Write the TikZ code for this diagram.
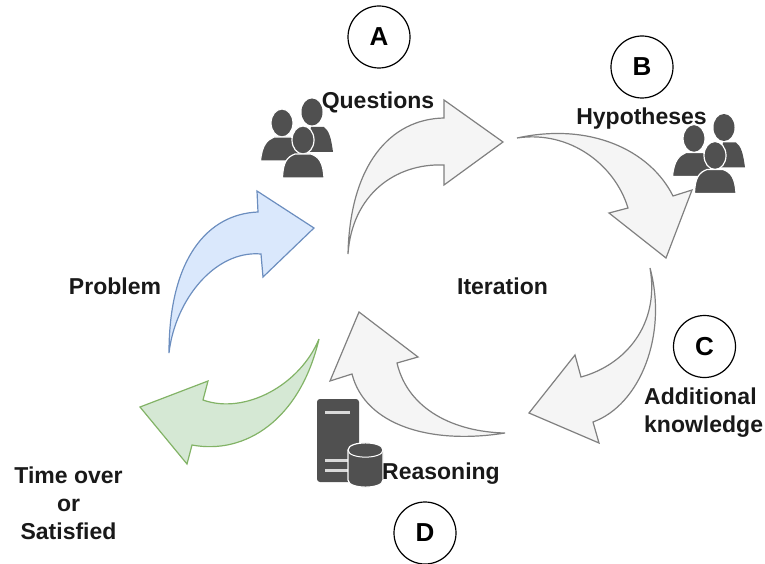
\documentclass[tikz,border=0pt]{standalone}
\usepackage{fontspec}
\setmainfont{Liberation Sans}
\definecolor{icon}{HTML}{505050}
\definecolor{bluefill}{HTML}{DAE8FC}
\definecolor{blueline}{HTML}{6C8EBF}
\definecolor{greenfill}{HTML}{D5E8D4}
\definecolor{greenline}{HTML}{82B366}
\definecolor{grayfill}{HTML}{F5F5F5}
\definecolor{grayline}{HTML}{808080}
\tikzset{
  x=1pt,y=-1pt,
  label/.style={font=\fontsize{23}{27}\selectfont\bfseries,align=center,text=black!90,inner sep=0pt},
  badge/.style={circle,draw=black,line width=1.2pt,minimum size=62pt,inner sep=0pt,font=\fontsize{26}{28}\selectfont\bfseries,fill=white},
  grayarrow/.style={draw=grayline,fill=grayfill,line width=1.2pt},
  bluearrow/.style={draw=blueline,fill=bluefill,line width=1.2pt},
  greenarrow/.style={draw=greenline,fill=greenfill,line width=1.2pt},
  iconfill/.style={fill=icon,draw=none},
  iconedge/.style={fill=icon,draw=white,line width=1.2pt},
  iconline/.style={draw=white!85!black,line width=3pt},
  pics/people/.style={code={
    \path[iconfill] (31,13) ellipse[x radius=10.5,y radius=13.5];
    \path[iconfill] (30,28) -- (43,28) .. controls (48,32) and (50,38) .. (52,53) -- (25,53) -- cycle;
    \path[iconedge] (1,24) ellipse[x radius=11,y radius=14];
    \path[iconedge] (-20.500,62) .. controls (-19,46) and (-14,41) .. (-7,38) -- (10,38) .. controls (16,41) and (20,46) .. (21,62) -- cycle;
    \path[iconedge] (22,41) ellipse[x radius=11,y radius=14];
    \path[iconedge] (1.500,79) .. controls (2,63) and (6,58) .. (14,55) -- (30,55) .. controls (38,58) and (42,63) .. (43,79) -- cycle;
  }}
}
\begin{document}
\begin{tikzpicture}
\useasboundingbox (0,0) rectangle (765,564);
% arrows
\draw[grayarrow] (348,254) .. controls (350,165) and (390,119) .. (444,118) -- (444,100) -- (503,142) -- (444,185) -- (444,165) .. controls (395,163) and (352,195) .. (348,254) -- cycle;
\draw[grayarrow] (517,138) .. controls (590,122) and (650,150) .. (673,196) -- (692,190) -- (666,258) -- (609,213) -- (628,208) .. controls (615,165) and (570,130) .. (517,138) -- cycle;
\draw[grayarrow] (650,268) .. controls (668,335) and (640,405) .. (593,422) -- (599,443) -- (529,413) -- (575,355) -- (581,377) .. controls (625,365) and (660,325) .. (650,268) -- cycle;
\draw[grayarrow] (505,433) .. controls (430,445) and (365,425) .. (352,374) -- (330,381) -- (359,312) -- (418,357) -- (397,363) .. controls (408,410) and (455,432) .. (505,433) -- cycle;
\draw[bluearrow] (169,353) .. controls (169,258) and (208,214) .. (258,212) -- (257,191) -- (314,228) -- (263,277) -- (261,254) .. controls (215,250) and (175,300) .. (169,353) -- cycle;
\draw[greenarrow] (319,339) .. controls (300,385) and (245,415) .. (203,400) -- (208,381) -- (140,407) -- (187,464) -- (192,445) .. controls (245,455) and (300,420) .. (319,339) -- cycle;
% icons
\pic at (281,99) {people};
\pic at (693,114.500) {people};
% server
\path[iconfill,rounded corners=3pt] (317,399) rectangle (359,482);
\draw[iconline] (325,412) -- (350,412);
\draw[iconline] (325,460) -- (350,460);
\draw[iconline] (325,470) -- (350,470);
\path[iconedge] (348,450) -- (348,480) .. controls (348,489.500) and (383,489.500) .. (383,480) -- (383,450) .. controls (383,440.500) and (348,440.500) .. (348,450) -- cycle;
\draw[white,line width=1pt] (348,450) .. controls (348,459.500) and (383,459.500) .. (383,450);
% badges
\node[badge] (A) at (379,37) {A};
\node[badge] (B) at (642,67) {B};
\node[badge] (C) at (704.500,346.500) {C};
\node[badge] (D) at (425,533) {D};
% labels
\node[label] (questions) at (378,102) {Questions};
\node[label] (hypotheses) at (641.500,118.500) {Hypotheses};
\node[label] (iteration) at (502.500,286) {Iteration};
\node[label] (problem) at (115,286) {Problem};
\node[label,align=left,anchor=west] (additional) at (644,413) {Additional\\[1pt]knowledge};
\node[label] (reasoning) at (441,474) {Reasoning};
\node[label] (timeover) at (68.500,503) {Time over\\[1pt]or\\[1pt]Satisfied};
\end{tikzpicture}
\end{document}
